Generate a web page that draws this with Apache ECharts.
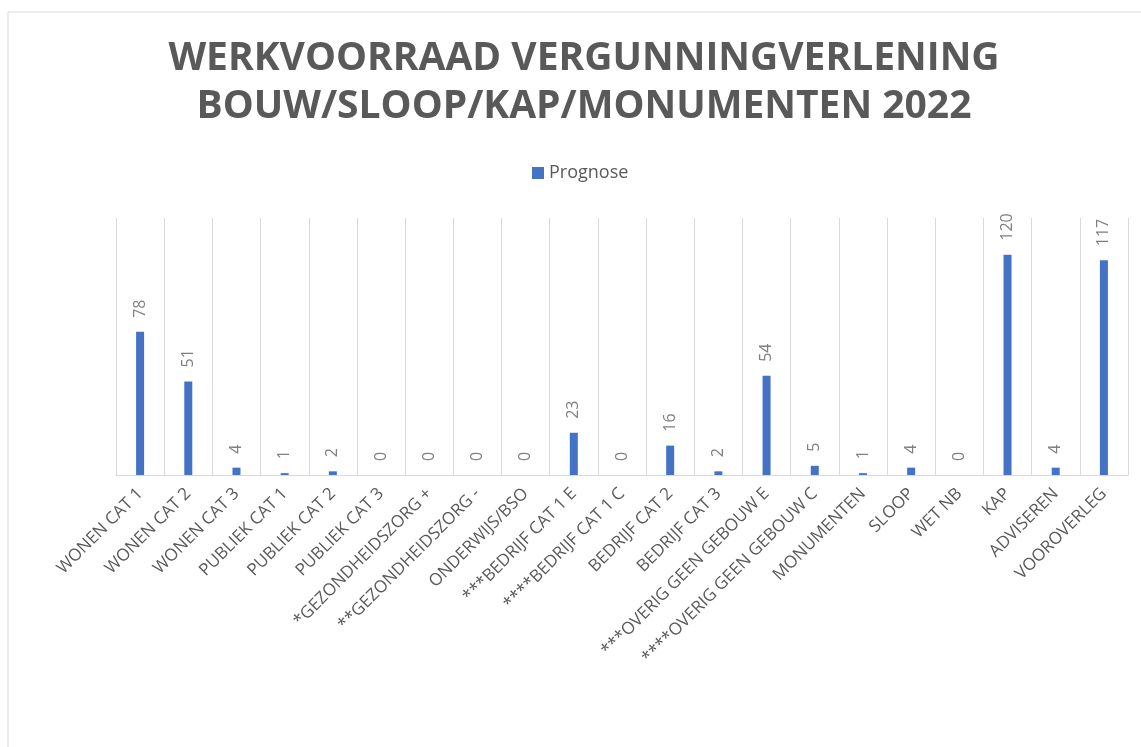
<!DOCTYPE html>
<html>
<head>
<meta charset="utf-8">
<script src="https://cdn.jsdelivr.net/npm/echarts@6/dist/echarts.min.js"></script>
<style>
  html, body { margin: 0; padding: 0; background: #fff; }
  #chart { width: 1141px; height: 747px; }
</style>
</head>
<body>
<div id="chart"></div>
<script>
const categories = [
  'WONEN CAT 1', 'WONEN CAT 2', 'WONEN CAT 3', 'PUBLIEK CAT 1', 'PUBLIEK CAT 2',
  'PUBLIEK CAT 3', '*GEZONDHEIDSZORG +', '**GEZONDHEIDSZORG -', 'ONDERWIJS/BSO',
  '***BEDRIJF CAT 1 E', '****BEDRIJF CAT 1 C', 'BEDRIJF CAT 2', 'BEDRIJF CAT 3',
  '***OVERIG GEEN GEBOUW E', '****OVERIG GEEN GEBOUW C', 'MONUMENTEN', 'SLOOP',
  'WET NB', 'KAP', 'ADVISEREN', 'VOOROVERLEG'
]
const prognose = [78, 51, 4, 1, 2, 0, 0, 0, 0, 23, 0, 16, 2, 54, 5, 1, 4, 0, 120, 4, 117]
const titleLines = ['WERKVOORRAAD VERGUNNINGVERLENING', 'BOUW/SLOOP/KAP/MONUMENTEN 2022']

const option = {
  animation: false,
  backgroundColor: '#fff',
  graphic: [{
    type: 'rect',
    shape: { x: 8, y: 12, width: 1300, height: 900 },
    style: { fill: 'none', stroke: '#d9d9d9', lineWidth: 1 }
  }],
  title: {
    text: titleLines.join('\n'),
    left: 579,
    top: 30,
    textAlign: 'center',
    textStyle: {
      fontFamily: 'Open Sans',
      fontWeight: 'bold',
      fontSize: 39,
      lineHeight: 48,
      color: '#595959'
    }
  },
  legend: {
    top: 159,
    left: 527,
    itemWidth: 12,
    itemHeight: 12,
    itemGap: 6,
    icon: 'rect',
    textStyle: { fontFamily: 'Open Sans', fontSize: 18, color: '#595959' },
    data: ['Prognose']
  },
  grid: { left: 116, right: 13, top: 218, bottom: 272 },
  xAxis: {
    type: 'category',
    data: categories,
    axisLine: { lineStyle: { color: '#d9d9d9' } },
    axisTick: { show: false },
    splitLine: { show: true, lineStyle: { color: '#d9d9d9' } },
    axisLabel: {
      interval: 0,
      rotate: 45,
      margin: 16,
      fontFamily: 'Open Sans',
      fontSize: 17,
      color: '#595959'
    }
  },
  yAxis: {
    type: 'value',
    min: 0,
    max: 140,
    show: false,
    splitLine: { show: false }
  },
  series: [{
    name: 'Prognose',
    type: 'bar',
    data: prognose,
    barWidth: 8,
    itemStyle: { color: '#4472c4' },
    label: {
      show: true,
      position: 'top',
      rotate: 90,
      align: 'left',
      verticalAlign: 'middle',
      distance: 14,
      fontFamily: 'Open Sans',
      fontSize: 16,
      color: '#7f7f7f'
    }
  }]
}

const chart = echarts.init(document.getElementById('chart'))
chart.setOption(option)
</script>
</body>
</html>
